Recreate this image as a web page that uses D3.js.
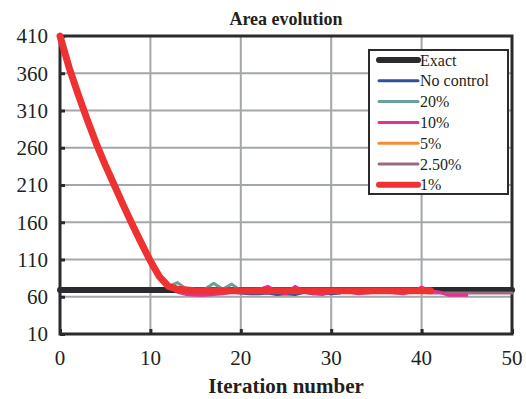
<!DOCTYPE html>
<html>
<head>
<meta charset="utf-8">
<title>Area evolution</title>
<script src="https://d3js.org/d3.v7.min.js"></script>
<style>
body { margin: 0; background: #fff; }
text { font-family: "Liberation Serif", "Times New Roman", serif; fill: #231f20; }
</style>
</head>
<body>
<div id="chart"></div>
<script>

// ---- data ----
var xTicks = [0, 10, 20, 30, 40, 50]
var yTicks = [10, 60, 110, 160, 210, 260, 310, 360, 410]

// shared first part of every run (iterations 0..12)
var descent = [410, 368, 332, 298, 266, 237, 210, 183, 157, 132, 108, 87, 74]

var exactIter = [0, 50]
var exactVal = [69, 69]

var noControl = descent.concat([69, 66, 65, 65, 66, 65, 66, 65, 64, 64, 65, 63, 64, 63, 66, 64, 65, 64, 65])
var pct20 = descent.concat([79, 70, 67, 70, 78, 70, 77, 68, 66, 67, 66, 68, 66, 67, 66, 67, 66, 67, 66, 67])
var pct10 = descent.concat([66, 63, 62, 62, 63, 64, 66, 67, 68, 70, 74, 67, 64, 74, 67, 64, 63, 66, 68, 66, 64, 65, 66, 67, 65, 64, 67, 73, 68, 66, 62, 62, 62])
var pct5 = descent.concat([70, 68, 68, 69, 68, 68, 69, 68, 68, 69, 68, 68, 69, 68, 68, 69, 68, 68, 69, 68, 68, 69, 68, 68, 69, 68, 68, 68])
var pct25 = descent.concat([68, 67, 66, 67, 67, 66, 67, 67, 66, 67, 66, 67, 67, 66, 67, 66, 67, 66, 67, 66, 67, 66, 67, 66, 67, 66, 66, 66, 65, 65, 65, 65, 65, 65, 65, 65, 65, 65])
var pct1 = descent.concat([70, 69, 68, 68, 68, 68, 68, 68, 68, 68, 68, 68, 68, 68, 68, 68, 68, 68, 68, 68, 68, 68, 68, 68, 68, 68, 68, 68, 68])

var seriesNames = ["Exact", "No control", "20%", "10%", "5%", "2.50%", "1%"]
var seriesColors = ["#2b2a2e", "#2f4f9f", "#6b9f9a", "#e2338f", "#f78b33", "#9b6b82", "#ee3131"]
var seriesWidths = [6, 3, 3, 3, 3, 3, 7]

// ---- layout ----
var width = 526
var height = 399
var plotL = 60, plotR = 512, plotT = 36, plotB = 334

var svg = d3.select("#chart")
  .append("svg")
    .attr("width", width)
    .attr("height", height)

var x = d3.scaleLinear().domain([0, 50]).range([plotL, plotR])
var y = d3.scaleLinear().domain([10, 410]).range([plotB, plotT])

// grid lines
svg.append("g")
  .selectAll("line")
  .data(yTicks.slice(1, -1))
  .enter()
  .append("line")
    .attr("x1", plotL).attr("x2", plotR)
    .attr("y1", function(d){ return y(d) }).attr("y2", function(d){ return y(d) })
    .attr("stroke", "#a3a7aa").attr("stroke-width", 2)

svg.append("g")
  .selectAll("line")
  .data(xTicks.slice(1, -1))
  .enter()
  .append("line")
    .attr("y1", plotT).attr("y2", plotB)
    .attr("x1", function(d){ return x(d) }).attr("x2", function(d){ return x(d) })
    .attr("stroke", "#a3a7aa").attr("stroke-width", 2)

// frame
svg.append("rect")
  .attr("x", plotL).attr("y", plotT)
  .attr("width", plotR - plotL).attr("height", plotB - plotT)
  .attr("fill", "none")
  .attr("stroke", "#2b2a2e")
  .attr("stroke-width", 3)

// axes with short inward ticks
svg.append("g")
  .attr("transform", "translate(" + plotL + ",0)")
  .call(d3.axisRight(y).tickValues(yTicks).tickSize(5).tickFormat(""))
svg.append("g")
  .attr("transform", "translate(0," + plotB + ")")
  .call(d3.axisTop(x).tickValues(xTicks).tickSize(5).tickFormat(""))
svg.selectAll(".domain").remove()
svg.selectAll(".tick line").attr("stroke", "#2b2a2e").attr("stroke-width", 3)

// tick labels
svg.append("g")
  .selectAll("text")
  .data(yTicks)
  .enter()
  .append("text")
    .attr("x", 48)
    .attr("y", function(d){ return y(d) })
    .attr("dy", "0.35em")
    .attr("text-anchor", "end")
    .style("font-size", "21px")
    .text(function(d){ return d })

svg.append("g")
  .selectAll("text")
  .data(xTicks)
  .enter()
  .append("text")
    .attr("x", function(d){ return x(d) })
    .attr("y", 365)
    .attr("text-anchor", "middle")
    .style("font-size", "21px")
    .text(function(d){ return d })

// titles
svg.append("text")
  .attr("x", (plotL + plotR) / 2).attr("y", 25)
  .attr("text-anchor", "middle")
  .style("font-size", "18px").style("font-weight", "bold")
  .text("Area evolution")

svg.append("text")
  .attr("x", (plotL + plotR) / 2).attr("y", 393)
  .attr("text-anchor", "middle")
  .style("font-size", "21px").style("font-weight", "bold")
  .text("Iteration number")

// lines
var line = d3.line()
  .x(function(d){ return x(d[0]) })
  .y(function(d){ return y(d[1]) })

function pairs(vals) {
  return vals.map(function(v, i){ return [i, v] })
}

var seriesData = [
  exactIter.map(function(it, i){ return [it, exactVal[i]] }),
  pairs(noControl), pairs(pct20), pairs(pct10), pairs(pct5), pairs(pct25), pairs(pct1)
]

// draw order: exact, then the others, 10% above 2.50%, 1% on top
var order = [0, 1, 2, 4, 5, 3, 6]
svg.append("g")
  .selectAll("path")
  .data(order)
  .enter()
  .append("path")
    .attr("d", function(i){ return line(seriesData[i]) })
    .attr("fill", "none")
    .attr("stroke", function(i){ return seriesColors[i] })
    .attr("stroke-width", function(i){ return seriesWidths[i] })
    .attr("stroke-linejoin", "round")
    .attr("stroke-linecap", "round")

// legend
var legend = svg.append("g")
legend.append("rect")
  .attr("x", 369).attr("y", 50)
  .attr("width", 139).attr("height", 144)
  .attr("fill", "#fff")
  .attr("stroke", "#2b2a2e")
  .attr("stroke-width", 2)

var rows = legend.selectAll("g.row")
  .data(seriesNames)
  .enter()
  .append("g")
    .attr("class", "row")
    .attr("transform", function(d, i){ return "translate(0," + (60 + i * 20.8) + ")" })

rows.append("line")
  .attr("x1", 379).attr("x2", 418)
  .attr("stroke", function(d, i){ return seriesColors[i] })
  .attr("stroke-width", function(d, i){ return i == 0 || i == 6 ? 6 : 3 })
  .attr("stroke-linecap", "round")

rows.append("text")
  .attr("x", 420)
  .attr("dy", "0.35em")
  .style("font-size", "16px")
  .text(function(d){ return d })

</script>
</body>
</html>
